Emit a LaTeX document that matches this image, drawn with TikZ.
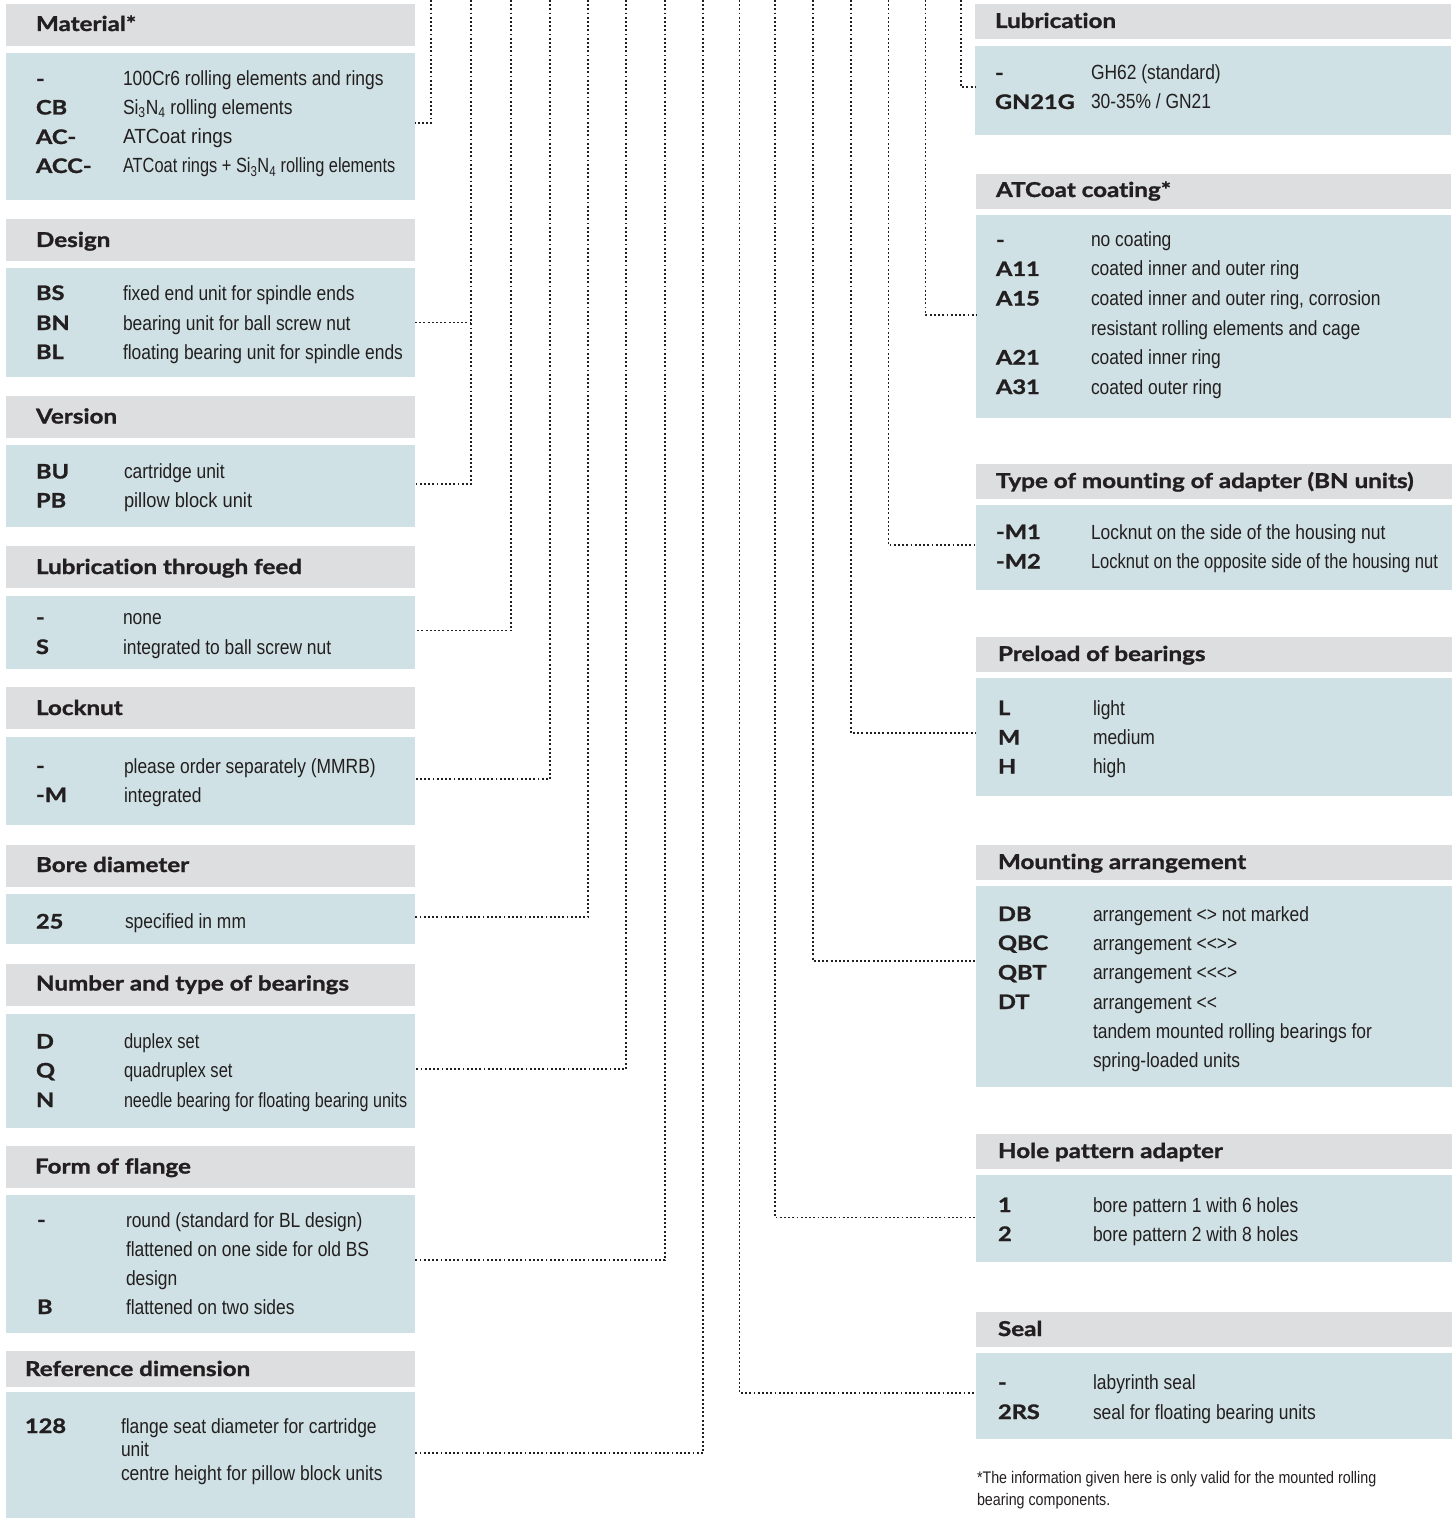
\documentclass[tikz,border=0pt]{standalone}
\usepackage{fontspec}
\usepackage{graphicx}
\usetikzlibrary{calc}
\setmainfont{Liberation Sans}
\newfontfamily\descfont[FakeStretch=0.85]{Liberation Sans}
\newfontfamily\hdrfont[FakeStretch=1.18, FakeBold=1.3, Ligatures=NoCommon]{Lato}
\definecolor{hdrgrey}{RGB}{221,222,224}
\definecolor{bodyblue}{RGB}{207,225,228}
\definecolor{ink}{RGB}{35,31,32}
\newcommand\mkbox[6]{\node[#1, minimum width=#5pt, minimum height=#6pt] (#2) at (#3,#4) {};}
\newcommand\sx[2]{\scalebox{#1}[1]{#2}}
\tikzset{
  hdrbox/.style={fill=hdrgrey, draw=none, inner sep=0pt, outer sep=0pt, anchor=north west},
  bodybox/.style={fill=bodyblue, draw=none, inner sep=0pt, outer sep=0pt, anchor=north west},
  txt/.style={anchor=base west, inner sep=0pt, outer sep=0pt, text=ink},
  hdrtxt/.style={txt, font=\hdrfont\bfseries\fontsize{20.5}{24}\selectfont},
  codetxt/.style={txt, font=\hdrfont\bfseries\fontsize{20}{24}\selectfont},
  desctxt/.style={txt, font=\descfont\fontsize{20.5}{24}\selectfont},
  notetxt/.style={txt, font=\descfont\fontsize{16.8}{20}\selectfont},
  conn/.style={line width=1.9pt, dash pattern=on 1.9pt off 2.3pt, draw=ink},
}
\begin{document}
\begin{tikzpicture}[x=1pt, y=-1pt]
\useasboundingbox (0,0) rectangle (1455,1522);
% ---------- left column boxes ----------
\mkbox{hdrbox}{h1}{6}{4}{409}{42}
\mkbox{bodybox}{b1}{6}{53}{409}{147}
\mkbox{hdrbox}{h2}{6}{219}{409}{42}
\mkbox{bodybox}{b2}{6}{268}{409}{109}
\mkbox{hdrbox}{h3}{6}{396}{409}{42}
\mkbox{bodybox}{b3}{6}{445}{409}{82}
\mkbox{hdrbox}{h4}{6}{546}{409}{42}
\mkbox{bodybox}{b4}{6}{596}{409}{73}
\mkbox{hdrbox}{h5}{6}{687}{409}{42}
\mkbox{bodybox}{b5}{6}{737}{409}{88}
\mkbox{hdrbox}{h6}{6}{845}{409}{42}
\mkbox{bodybox}{b6}{6}{894}{409}{50}
\mkbox{hdrbox}{h7}{6}{964}{409}{42}
\mkbox{bodybox}{b7}{6}{1014}{409}{114}
\mkbox{hdrbox}{h8}{6}{1146}{409}{42}
\mkbox{bodybox}{b8}{6}{1195}{409}{138}
\mkbox{hdrbox}{h9}{6}{1351}{409}{36}
\mkbox{bodybox}{b9}{6}{1392}{409}{126}
% ---------- right column boxes ----------
\mkbox{hdrbox}{r1h}{975}{4}{476}{35}
\mkbox{bodybox}{r1b}{975}{46}{476}{89}
\mkbox{hdrbox}{r2h}{976}{174}{475}{35}
\mkbox{bodybox}{r2b}{976}{215}{475}{203}
\mkbox{hdrbox}{r3h}{976}{464}{476}{35}
\mkbox{bodybox}{r3b}{976}{505}{476}{85}
\mkbox{hdrbox}{r4h}{976}{637}{476}{35}
\mkbox{bodybox}{r4b}{976}{678}{476}{118}
\mkbox{hdrbox}{r5h}{976}{845}{476}{35}
\mkbox{bodybox}{r5b}{976}{886}{476}{201}
\mkbox{hdrbox}{r6h}{976}{1134}{476}{35}
\mkbox{bodybox}{r6b}{976}{1175}{476}{87}
\mkbox{hdrbox}{r7h}{976}{1312}{476}{35}
\mkbox{bodybox}{r7b}{976}{1353}{476}{86}
% ---------- left texts ----------
\node[hdrtxt] (t1) at (36,31) {Material*};
\node[codetxt] (c11) at (36,86) {-};
\node[desctxt] (d11) at (123,86) {100Cr6 rolling elements and rings};
\node[codetxt] (c12) at (36,114.5) {CB};
\node[desctxt] (d12) at (123,114.5) {Si\textsubscript{3}N\textsubscript{4} rolling elements};
\node[codetxt] (c13) at (36,144) {AC-};
\node[desctxt] (d13) at (123,144) {\sx{1.09}{ATCoat rings}};
\node[codetxt] (c14) at (36,173) {ACC-};
\node[desctxt] (d14) at (123,173) {\sx{0.94}{ATCoat rings + Si\textsubscript{3}N\textsubscript{4} rolling elements}};

\node[hdrtxt] (t2) at (36,247) {Design};
\node[codetxt] (c21) at (36,300) {BS};
\node[desctxt] (d21) at (123,300) {fixed end unit for spindle ends};
\node[codetxt] (c22) at (36,330) {BN};
\node[desctxt] (d22) at (123,330) {bearing unit for ball screw nut};
\node[codetxt] (c23) at (36,359) {BL};
\node[desctxt] (d23) at (123,359) {floating bearing unit for spindle ends};

\node[hdrtxt] (t3) at (36,423.5) {Version};
\node[codetxt] (c31) at (36,478.5) {BU};
\node[desctxt] (d31) at (124,478.5) {cartridge unit};
\node[codetxt] (c32) at (36,507.5) {PB};
\node[desctxt] (d32) at (124,507.5) {\sx{1.05}{pillow block unit}};

\node[hdrtxt] (t4) at (36,574) {Lubrication through feed};
\node[codetxt] (c41) at (36,624.5) {-};
\node[desctxt] (d41) at (123,624.5) {none};
\node[codetxt] (c42) at (36,654) {S};
\node[desctxt] (d42) at (123,654) {integrated to ball screw nut};

\node[hdrtxt] (t5) at (36,715) {Locknut};
\node[codetxt] (c51) at (36,773) {-};
\node[desctxt] (d51) at (124,773) {please order separately (MMRB)};
\node[codetxt] (c52) at (36,802) {-M};
\node[desctxt] (d52) at (124,802) {integrated};

\node[hdrtxt] (t6) at (36,872) {Bore diameter};
\node[codetxt] (c61) at (36,928.5) {25};
\node[desctxt] (d61) at (125,928.5) {specified in mm};

\node[hdrtxt] (t7) at (36,990.5) {Number and type of bearings};
\node[codetxt] (c71) at (36,1048.5) {D};
\node[desctxt] (d71) at (124,1048.5) {\sx{0.95}{duplex set}};
\node[codetxt] (c72) at (36,1077.5) {Q};
\node[desctxt] (d72) at (124,1077.5) {\sx{0.95}{quadruplex set}};
\node[codetxt] (c73) at (36,1107) {N};
\node[desctxt] (d73) at (124,1107) {\sx{0.925}{needle bearing for floating bearing units}};

\node[hdrtxt] (t8) at (35,1173.5) {Form of flange};
\node[codetxt] (c81) at (37,1227) {-};
\node[desctxt] (d81) at (126,1227) {round (standard for BL design)};
\node[desctxt] (d82) at (126,1256) {flattened on one side for old BS};
\node[desctxt] (d83) at (126,1285) {design};
\node[codetxt] (c84) at (37,1314) {B};
\node[desctxt] (d84) at (126,1314) {flattened on two sides};

\node[hdrtxt] (t9) at (25,1376) {Reference dimension};
\node[codetxt] (c91) at (25,1433) {128};
\node[desctxt] (d91) at (121,1433) {flange seat diameter for cartridge};
\node[desctxt] (d92) at (121,1456.5) {unit};
\node[desctxt] (d93) at (121,1480) {centre height for pillow block units};
% ---------- right texts ----------
\node[hdrtxt] (u1) at (995,28) {Lubrication};
\node[codetxt] (e11) at (995,80) {-};
\node[desctxt] (f11) at (1091,80) {GH62 (standard)};
\node[codetxt] (e12) at (995,109) {GN21G};
\node[desctxt] (f12) at (1091,109) {30-35\% / GN21};

\node[hdrtxt] (u2) at (996,197) {ATCoat coating*};
\node[codetxt] (e21) at (996,247) {-};
\node[desctxt] (f21) at (1091,247) {no coating};
\node[codetxt] (e22) at (996,276) {A11};
\node[desctxt] (f22) at (1091,276) {coated inner and outer ring};
\node[codetxt] (e23) at (996,305.5) {A15};
\node[desctxt] (f23) at (1091,305.5) {coated inner and outer ring, corrosion};
\node[desctxt] (f24) at (1091,335) {resistant rolling elements and cage};
\node[codetxt] (e25) at (996,364.5) {A21};
\node[desctxt] (f25) at (1091,364.5) {coated inner ring};
\node[codetxt] (e26) at (996,394) {A31};
\node[desctxt] (f26) at (1091,394) {coated outer ring};

\node[hdrtxt] (u3) at (996,488) {Type of mounting of adapter (BN units)};
\node[codetxt] (e31) at (996,539) {-M1};
\node[desctxt] (f31) at (1091,539) {Locknut on the side of the housing nut};
\node[codetxt] (e32) at (996,568.5) {-M2};
\node[desctxt] (f32) at (1091,568.5) {\sx{0.95}{Locknut on the opposite side of the housing nut}};

\node[hdrtxt] (u4) at (998,661) {Preload of bearings};
\node[codetxt] (e41) at (998,715) {L};
\node[desctxt] (f41) at (1093,715) {light};
\node[codetxt] (e42) at (998,744.5) {M};
\node[desctxt] (f42) at (1093,744.5) {medium};
\node[codetxt] (e43) at (998,773.5) {H};
\node[desctxt] (f43) at (1093,773.5) {high};

\node[hdrtxt] (u5) at (998,869) {Mounting arrangement};
\node[codetxt] (e51) at (998,921) {DB};
\node[desctxt] (f51) at (1093,921) {arrangement <> not marked};
\node[codetxt] (e52) at (998,950) {QBC};
\node[desctxt] (f52) at (1093,950) {arrangement <<>>};
\node[codetxt] (e53) at (998,979.5) {QBT};
\node[desctxt] (f53) at (1093,979.5) {arrangement <<<>};
\node[codetxt] (e54) at (998,1009) {DT};
\node[desctxt] (f54) at (1093,1009) {arrangement <<};
\node[desctxt] (f55) at (1093,1038.5) {tandem mounted rolling bearings for};
\node[desctxt] (f56) at (1093,1067) {spring-loaded units};

\node[hdrtxt] (u6) at (998,1158) {Hole pattern adapter};
\node[codetxt] (e61) at (998,1212) {1};
\node[desctxt] (f61) at (1093,1212) {bore pattern 1 with 6 holes};
\node[codetxt] (e62) at (998,1241) {2};
\node[desctxt] (f62) at (1093,1241) {bore pattern 2 with 8 holes};

\node[hdrtxt] (u7) at (998,1336) {Seal};
\node[codetxt] (e71) at (998,1389.5) {-};
\node[desctxt] (f71) at (1093,1389.5) {labyrinth seal};
\node[codetxt] (e72) at (998,1419) {2RS};
\node[desctxt] (f72) at (1093,1419) {seal for floating bearing units};

\node[notetxt] (n1) at (977,1483) {*The information given here is only valid for the mounted rolling};
\node[notetxt] (n2) at (977,1505) {bearing components.};
% ---------- connector origins (top edge) ----------
\coordinate (v1) at (431,0);
\coordinate (v2) at (471,0);
\coordinate (v3) at (511,0);
\coordinate (v4) at (550,0);
\coordinate (v5) at (588,0);
\coordinate (v6) at (626,0);
\coordinate (v7) at (665,0);
\coordinate (v8) at (703,0);
\coordinate (w7) at (739.5,0);
\coordinate (w6) at (775,0);
\coordinate (w5) at (813,0);
\coordinate (w4) at (851,0);
\coordinate (w3) at (888.5,0);
\coordinate (w2) at (925.5,0);
\coordinate (w1) at (961,0);
\coordinate (mcon) at ($(r5b.north west)+(0,75)$);
% ---------- connectors ----------
\draw[conn] (v1) |- ([yshift=3.5pt]b1.east);
\draw[conn] (v2) |- ([yshift=2pt]b3.east);
\draw[conn] (b2.east) -- (b2.east -| v2);
\draw[conn] (v3) |- ([yshift=2pt]b4.east);
\draw[conn] (v4) |- ([yshift=2pt]b5.east);
\draw[conn] (v5) |- ([yshift=2pt]b6.east);
\draw[conn] (v6) |- ([yshift=2pt]b7.east);
\draw[conn] (v7) |- ([yshift=4pt]b8.east);
\draw[conn] (v8) |- ([yshift=2pt]b9.east);
\draw[conn] (w1) |- ([yshift=3.5pt]r1b.west);
\draw[conn] (w2) |- ([yshift=1.5pt]r2b.west);
\draw[conn] (w3) |- ([yshift=2.5pt]r3b.west);
\draw[conn] (w4) |- ([yshift=4pt]r4b.west);
\draw[conn] (w5) |- (mcon);
\draw[conn] (w6) |- ([yshift=1pt]r6b.west);
\draw[conn] (w7) |- ([yshift=3pt]r7b.west);
\end{tikzpicture}
\end{document}
